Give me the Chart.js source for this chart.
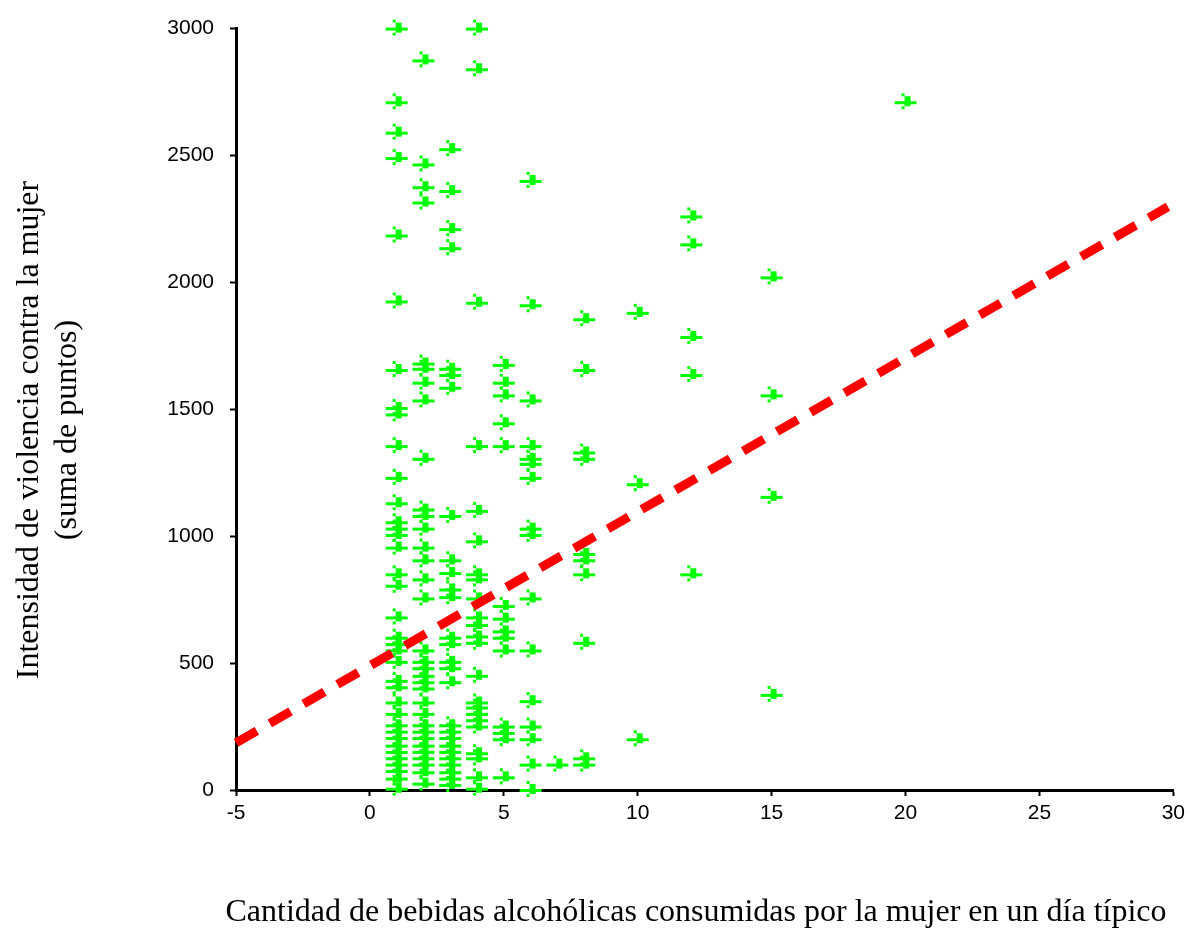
<!DOCTYPE html>
<html>
<head>
<meta charset="utf-8">
<script src="https://cdn.jsdelivr.net/npm/chart.js@4.4.0/dist/chart.umd.min.js"></script>
<style>
body { margin: 0; background: #fff; }
</style>
</head>
<body>
<canvas id="scatter" width="1190" height="930"></canvas>
<script>
// drinks per typical day (x columns) and violence scores found in each column
const drinkCols = [1, 2, 3, 4, 5, 6, 7, 8, 10, 12, 15, 20];
const scoresAt1 = [3000, 2710, 2590, 2490, 2185, 1925, 1655, 1505, 1480, 1355, 1230, 1130, 1055, 1030, 1005, 955, 850, 805, 680, 600, 575, 550, 505, 430, 405, 345, 300, 255, 230, 205, 175, 150, 125, 100, 75, 45, 5];
const scoresAt2 = [2875, 2465, 2375, 2315, 1680, 1660, 1605, 1535, 1305, 1105, 1080, 1030, 955, 905, 830, 755, 550, 505, 480, 450, 425, 400, 345, 300, 255, 230, 205, 175, 150, 125, 100, 70, 25];
const scoresAt3 = [2525, 2360, 2210, 2135, 1660, 1635, 1585, 1080, 905, 855, 790, 760, 600, 575, 505, 480, 425, 255, 230, 205, 175, 150, 125, 100, 70, 45, 20];
const scoresAt4 = [3000, 2840, 1920, 1355, 1100, 980, 850, 830, 755, 680, 650, 605, 580, 450, 345, 325, 300, 275, 250, 145, 125, 50, 5];
const scoresAt5 = [1675, 1605, 1555, 1445, 1355, 725, 675, 625, 600, 550, 250, 225, 200, 50];
const scoresAt6 = [2400, 1910, 1535, 1355, 1305, 1285, 1230, 1030, 1005, 755, 550, 350, 250, 200, 100, 0];
const scoresAt7 = [100];
const scoresAt8 = [1855, 1655, 1330, 1305, 930, 905, 850, 580, 125, 100];
const scoresAt10 = [1880, 1205, 200];
const scoresAt12 = [2260, 2150, 1785, 1635, 850];
const scoresAt15 = [2020, 1555, 1155, 375];
const scoresAt20 = [2710];
const scoreCols = [scoresAt1, scoresAt2, scoresAt3, scoresAt4, scoresAt5, scoresAt6, scoresAt7, scoresAt8, scoresAt10, scoresAt12, scoresAt15, scoresAt20];

// fitted line, end points
const fitX = [-5, 29.8];
const fitY = [186, 2298];

const xTicks = [-5, 0, 5, 10, 15, 20, 25, 30];
const yTicks = [0, 500, 1000, 1500, 2000, 2500, 3000];
const xTitle = 'Cantidad de bebidas alcohólicas consumidas por la mujer en un día típico';
const yTitle = ['Intensidad de violencia contra la mujer', '(suma de puntos)'];

var points = [];
drinkCols.forEach((d, i) => {
    scoreCols[i].forEach(v => points.push({x: d, y: v}));
});

// the little green arrow-cross marker
var mark = document.createElement('canvas');
mark.width = 24;
mark.height = 24;
var m = mark.getContext('2d');
m.fillStyle = '#00ff00';
m.fillRect(1, 11, 22, 3);
m.fillRect(11, 6, 6, 10);
m.fillRect(8, 3, 3, 3);
m.fillRect(8, 16, 3, 3);

const titles = {
    id: 'axisTitles',
    afterDraw(chart) {
        var c = chart.ctx;
        c.save();
        c.fillStyle = '#000';
        c.font = '32px "Liberation Serif"';
        c.textAlign = 'center';
        c.textBaseline = 'middle';
        c.fillText(xTitle, 696, 913);
        c.translate(0, 430);
        c.rotate(-Math.PI / 2);
        c.fillText(yTitle[0], 0, 30);
        c.fillText(yTitle[1], 0, 68);
        c.restore();
    }
};

var tickFont = {family: '"Liberation Sans"', size: 21};

new Chart(document.getElementById('scatter').getContext('2d'), {
    type: 'scatter',
    data: {
        datasets: [
            {
                type: 'line',
                data: fitX.map((x, i) => ({x: x, y: fitY[i]})),
                borderColor: '#ff0000',
                borderWidth: 9,
                borderDash: [24, 15],
                borderCapStyle: 'butt',
                pointRadius: 0,
                fill: false,
                clip: false
            },
            {
                data: points,
                pointStyle: mark,
                pointRadius: 10,
                clip: false
            }
        ]
    },
    options: {
        responsive: false,
        animation: false,
        layout: {padding: {top: 27, right: 10, left: 0, bottom: 0}},
        plugins: {
            legend: {display: false},
            tooltip: {enabled: false}
        },
        scales: {
            x: {
                type: 'linear',
                min: -5,
                max: 30,
                afterBuildTicks: s => { s.ticks = xTicks.map(v => ({value: v})); },
                afterFit: s => { s.height = 140; },
                border: {color: '#000', width: 3},
                grid: {drawOnChartArea: false, tickLength: 6, tickColor: '#000', tickWidth: 2},
                ticks: {color: '#000', font: tickFont, padding: 5, maxRotation: 0, autoSkip: false,
                    callback: v => String(v)}
            },
            y: {
                type: 'linear',
                min: 0,
                max: 3000,
                afterBuildTicks: s => { s.ticks = yTicks.map(v => ({value: v})); },
                afterFit: s => { s.width = 236; },
                border: {color: '#000', width: 3},
                grid: {drawOnChartArea: false, tickLength: 6, tickColor: '#000', tickWidth: 2},
                ticks: {color: '#000', font: tickFont, padding: 16, autoSkip: false,
                    callback: v => String(v)}
            }
        }
    },
    plugins: [titles]
});
</script>
</body>
</html>
